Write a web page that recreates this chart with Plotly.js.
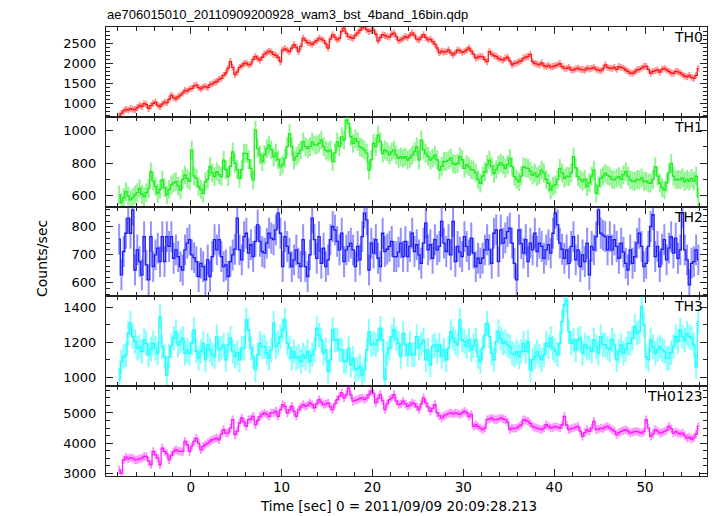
<!DOCTYPE html>
<html>
<head>
<meta charset="utf-8">
<script src="https://cdn.plot.ly/plotly-3.0.1.min.js"></script>
<style>html,body{margin:0;padding:0;background:#fff;}#chart{width:717px;height:516px;}</style>
</head>
<body>
<div id="chart"></div>
<script>
// ---- data ----
const BIN_START = -7.875;   // centre of first 0.25 s bin (sec)
const BIN_WIDTH = 0.25;     // 16 x 1/64 s

const TH0 = [
690,760,820,860, 840,880,860,850, 900,960,930,1000, 980,880,950,1010,
1040,960,930,990, 1040,1020,1110,1210, 1150,1120,1170,1210, 1260,1330,1310,1360,
1380,1440,1460,1400, 1370,1410,1430,1400, 1470,1490,1530,1550, 1600,1630,1700,1760,
1880,2040,1900,1720, 1780,1900,1940,1990, 2010,1960,1980,2100, 2170,2120,2080,2150,
2230,2260,2300,2280, 2220,2200,2150,2040, 2330,2360,2320,2290, 2380,2460,2400,2290,
2420,2620,2570,2510, 2500,2470,2520,2560, 2620,2600,2570,2480, 2380,2600,2710,2650,
2580,2620,2800,2870, 2740,2660,2640,2620, 2700,2750,2820,2880, 2910,2830,2790,2810,
2830,2720,2550,2640, 2710,2690,2660,2650, 2720,2750,2660,2560, 2580,2620,2660,2640,
2700,2750,2700,2600, 2580,2650,2710,2640, 2580,2600,2540,2480, 2380,2260,2300,2280,
2290,2330,2260,2210, 2260,2330,2310,2270, 2290,2330,2380,2300, 2230,2130,2150,2170,
2160,2090,2040,2290, 2230,2190,2170,2120, 2100,2080,2125,2150, 2060,1960,2000,2010,
2040,2060,2125,2150, 2170,2220,2040,2000, 1980,1960,2010,1940, 1920,1950,1910,1920,
1940,1960,1990,1920, 1880,1875,1900,1840, 1835,1860,1880,1850, 1840,1835,1880,1860,
1875,1900,1850,1835, 1820,1860,1960,1900, 1880,1875,1900,1850, 1920,1900,1880,1835,
1800,1760,1750,1790, 1835,1850,1880,1920, 1930,1850,1750,1800, 1820,1835,1780,1850,
1875,1840,1800,1760, 1750,1800,1790,1760, 1720,1680,1665,1700, 1650,1625,1700,1875
];

const TH1 = [
606,560,590,626, 600,576,590,606, 620,646,610,596, 620,646,747,690,
656,616,640,697, 650,606,640,667, 680,687,660,636, 700,727,707,690,
878,720,707,656, 640,616,687,700, 778,740,717,747, 730,717,818,760,
717,780,868,798, 760,707,760,858, 858,820,768,697, 1000,888,850,808,
850,888,909,880, 838,860,820,778, 790,828,900,979, 900,818,840,858,
880,929,900,888, 900,929,910,909, 920,939,900,878, 870,878,808,860,
929,900,959,940, 1060,1040,960,919, 949,930,898,890, 878,860,757,820,
919,900,969,930, 858,880,868,850, 868,880,850,828, 838,828,838,818,
830,848,870,898, 818,939,880,858, 840,818,830,848, 820,757,780,808,
810,818,830,798, 790,798,838,820, 768,790,778,760, 757,740,700,677,
720,747,790,818, 780,737,760,788, 800,788,768,790, 828,780,717,700,
687,720,778,770, 768,750,727,740, 717,730,757,740, 700,677,636,660,
667,700,768,740, 707,720,717,740, 838,770,717,700, 687,700,656,680,
720,757,616,660, 707,720,737,725, 717,700,697,710, 717,700,730,747,
720,697,690,687, 700,697,710,687, 690,680,677,700, 778,720,677,650,
636,680,740,798, 720,697,700,697, 710,687,700,690, 707,690,720,596
];

const TH2 = [
756,629,712,777,831,777,860,646,718,676,629,765,664,611,765,658,700,
724,676,765,676,765,730,765,688,718,694,658,646,718,742,754,700,690,
676,623,670,658,611,682,623,694,754,718,754,694,658,664,623,676,700,
720,831,718,682,765,777,706,736,694,748,807,748,712,706,742,777,760,
754,789,849,777,658,765,730,706,658,682,718,670,658,754,658,623,700,
831,754,688,765,670,724,658,682,754,801,789,748,718,777,676,718,730,
742,718,658,730,682,765,849,825,646,742,706,754,688,658,777,712,720,
730,748,694,694,710,
742,694,748,694,730,777,712,736,700,670,742,813,718,736,688,754,718,730,
819,742,712,754,700,819,676,730,710,694,765,730,700,760,706,658,688,670,
688,718,754,718,670,777,789,676,789,742,760,783,795,742,670,611,789,740,
706,754,676,742,718,777,712,742,730,688,718,736,706,777,849,807,742,720,
688,718,670,730,765,682,718,658,700,676,742,629,730,718,765,860,777,770,
765,718,765,718,754,730,688,742,710,670,646,718,670,694,742,777,730,
658,670,730,801,843,694,730,658,720,754,682,724,765,706,760,688,718,
849,718,682,593,670,676,718,682
];

const TH3 = [
985,1090,1118,1128,1250,1309,1232,1204,1166,1175,1147,1213,1194,1128,1160,1194,1166,1137,
1347,1175,1118,1013,1118,1180,1223,1261,1185,1204,1223,1137,1156,1137,1194,1270,1150,1109,
1147,1194,1099,1185,1156,1130,1118,1232,1156,1166,1185,1099,1185,1223,1147,1118,1140,1099,
1166,1166,1328,1270,1166,1118,1042,1128,1194,1175,1175,1140,1109,1156,1309,1175,1194,1230,
1270,1328,1194,1166,1109,1147,1109,1118,1090,1128,1109,1147,1090,1128,1156,1280,1240,
1213,1137,1156,1032,1099,1270,1213,1213,1156,1156,1090,1090,1166,1070,1109,1042,1050,
1061,1013,1042,1156,1261,1185,1194,1185,1213,1280,1213,985,1137,1166,1232,1270,1220,
1194,
1118,1251,1185,1128,1194,1128,1128,1232,1166,1190,1213,1099,1156,1070,1175,1185,1147,
1185,1118,1156,1099,1166,1261,1223,1200,1185,1328,1213,1204,1175,1213,1156,1180,1213,1118,
1090,1166,1242,1309,1232,1137,1099,1204,1261,1220,1194,1204,1185,1175,1137,1128,1147,
1118,1147,1194,1147,1204,1042,1099,1118,1147,1120,1099,1128,1194,1175,1223,1166,1150,1128,
1194,1318,1413,1442,1261,1194,1213,1156,1213,1223,1137,1185,1166,1170,1147,1213,1175,
1137,1232,1185,1185,1166,1156,1213,1185,1099,1147,1185,1137,1160,1194,1194,1223,1290,
1251,1261,1404,1299,1118,1099,1213,1175,1137,1160,1175,1156,1147,1109,1109,1140,1175,1232,
1204,1270,1232,1213,1251,1232,1223,1185,1061,1318
];

const TH0123 = [
3113,3000,3446,3535, 3480,3520,3500,3446, 3446,3480,3500,3557, 3557,3400,3280,3724,
3613,3500,3280,3835, 3724,3650,3446,3600, 3724,3779,3740,3724, 3724,4057,3946,3724,
3900,4057,4168,4000, 3779,3890,3950,4001, 4057,4112,4140,4168, 4112,4300,4445,4334,
4334,4500,4778,4279, 4400,4667,4834,4700, 4556,4778,4800,4889, 4612,4750,4889,4950,
5000,4950,4889,5000, 5000,5056,4889,5100, 5278,5222,5000,5100, 5222,5050,4889,5111,
5200,5278,5222,5250, 5333,5280,5167,5300, 5444,5350,5278,5300, 5333,5200,5111,5300,
5444,5550,5666,5500, 5600,5833,5600,5389, 5420,5444,5480,5500, 5444,5500,5611,5722,
5650,5333,5480,5611, 5400,5111,5300,5444, 5500,5611,5400,5278, 5300,5389,5300,5222,
5260,5333,5300,5200, 5111,5300,5500,5333, 5200,5056,5150,5278, 5000,4900,4834,4900,
4945,4980,5000,4970, 5000,4980,4945,5000, 5056,5000,4889,4950, 4556,4600,4556,4500,
4445,4500,4778,4800, 4834,4780,4778,4800, 4834,4800,4778,4700, 4445,4500,4480,4500,
4556,4600,4778,4750, 4723,4650,4556,4520, 4500,4470,4445,4500, 4612,4560,4500,4520,
4556,4530,4500,4600, 4889,4600,4445,4480, 4500,4530,4556,4400, 4223,4350,4445,4390,
4500,4723,4445,4460, 4500,4480,4530,4556, 4500,4445,4400,4279, 4350,4390,4420,4445,
4400,4334,4360,4390, 4390,4360,4334,4380, 4778,4500,4223,4300, 4445,4400,4334,4350,
4390,4420,4556,4480, 4334,4380,4334,4300, 4334,4250,4168,4200, 4134,4180,4300,4556
];

const BAND_NAMES = ['TH0', 'TH1', 'TH2', 'TH3', 'TH0123'];
const BAND_VALUES = [TH0, TH1, TH2, TH3, TH0123];
const BAND_ERRORS = [85, 57, 55, 70, 140];   // typical 1-sigma error (counts/sec)

// ---- styling ----
const LINE_COLORS = ['#ff1a1a', '#1aee1a', '#1a1aff', '#1affff', '#ff1aff'];
const ERR_COLORS = ['rgba(255,40,40,0.5)', 'rgba(30,235,30,0.5)', 'rgba(40,40,255,0.5)', 'rgba(30,255,255,0.55)', 'rgba(255,40,255,0.5)'];
const Y_RANGES = [[675, 2900], [535, 1081], [552, 872], [949, 1462], [2910, 5887]];
const Y_DTICK = [500, 200, 100, 200, 1000];
const Y_MINOR = [100, 100, 20, 100, 250];
const X_RANGE = [-9.32, 56.82];
const FONT = 'DejaVu Sans, Liberation Sans, Arial, sans-serif';
const FONT2 = 'Liberation Sans, Arial, sans-serif';

const traces = [];
const layout = {
  width: 717, height: 516,
  margin: {l: 106, r: 10, t: 27, b: 40, pad: 0},
  paper_bgcolor: '#ffffff', plot_bgcolor: '#ffffff',
  showlegend: false,
  font: {family: FONT, size: 13, color: '#000'},
  title: {
    text: 'ae706015010_20110909200928_wam3_bst_4band_16bin.qdp',
    font: {family: FONT2, size: 13, color: '#000'},
    xref: 'container', x: 107 / 717, xanchor: 'left',
    yref: 'container', y: 1 - 14 / 516, yanchor: 'middle'
  },
  annotations: []
};

const N = BAND_NAMES.length;
for (let i = 0; i < N; i++) {
  const n = i + 1;
  const xa = 'x' + (n === 1 ? '' : n);
  const ya = 'y' + (n === 1 ? '' : n);
  const vals = BAND_VALUES[i];
  const t = vals.map((_, k) => BIN_START + k * BIN_WIDTH);
  // error bars
  traces.push({
    x: t, y: vals, xaxis: xa, yaxis: ya, type: 'scatter', mode: 'markers',
    marker: {size: 0.1, color: ERR_COLORS[i], opacity: 0},
    error_y: {type: 'constant', value: BAND_ERRORS[i], color: ERR_COLORS[i], thickness: 2, width: 0},
    hoverinfo: 'skip'
  });
  // step line
  traces.push({
    x: t, y: vals, xaxis: xa, yaxis: ya, type: 'scatter', mode: 'lines',
    line: {shape: 'hvh', color: LINE_COLORS[i], width: 1.3},
    hoverinfo: 'skip'
  });

  const top = 1 - i / N, bottom = 1 - (i + 1) / N;
  layout['xaxis' + (n === 1 ? '' : n)] = {
    domain: [0, 1], anchor: ya, range: X_RANGE, autorange: false,
    showline: true, linecolor: '#222', linewidth: 1, mirror: 'ticks',
    ticks: 'inside', ticklen: 7, tickwidth: 1, tickcolor: '#222',
    tick0: 0, dtick: 10,
    minor: {dtick: 2, tick0: 0, ticks: 'inside', ticklen: 4, tickwidth: 1, tickcolor: '#222', showgrid: false},
    showgrid: false, zeroline: false,
    showticklabels: n === N,
    tickfont: {family: FONT, size: 13.5, color: '#000'},
    ticklabelstandoff: -1
  };
  layout['yaxis' + (n === 1 ? '' : n)] = {
    domain: [bottom, top], anchor: xa, range: Y_RANGES[i], autorange: false,
    showline: true, linecolor: '#222', linewidth: 1, mirror: 'ticks',
    ticks: 'inside', ticklen: 7, tickwidth: 1, tickcolor: '#222',
    tick0: 0, dtick: Y_DTICK[i],
    minor: {dtick: Y_MINOR[i], tick0: 0, ticks: 'inside', ticklen: 4, tickwidth: 1, tickcolor: '#222', showgrid: false},
    showgrid: false, zeroline: false,
    tickfont: {family: FONT, size: 13, color: '#000'},
    ticklabelstandoff: 6
  };
  layout.annotations.push({
    text: BAND_NAMES[i], xref: 'paper', x: 1, xanchor: 'right', xshift: -2,
    yref: ya + ' domain', y: 1, yanchor: 'top', yshift: 0,
    showarrow: false, font: {family: FONT, size: 14, color: '#000'}
  });
}

layout.annotations.push({
  text: 'Counts/sec', textangle: -90, showarrow: false,
  xref: 'paper', x: (42 - 106) / 601, xanchor: 'center',
  yref: 'paper', y: (476 - 259) / 449, yanchor: 'middle',
  font: {family: FONT, size: 14, color: '#000'}
});
layout.annotations.push({
  text: 'Time [sec] 0 = 2011/09/09 20:09:28.213', showarrow: false,
  xref: 'paper', x: (398 - 106) / 601, xanchor: 'center',
  yref: 'paper', y: (476 - 506) / 449, yanchor: 'middle',
  font: {family: FONT, size: 13.5, color: '#000'}
});

Plotly.newPlot('chart', traces, layout, {staticPlot: true, displayModeBar: false});
</script>
</body>
</html>
